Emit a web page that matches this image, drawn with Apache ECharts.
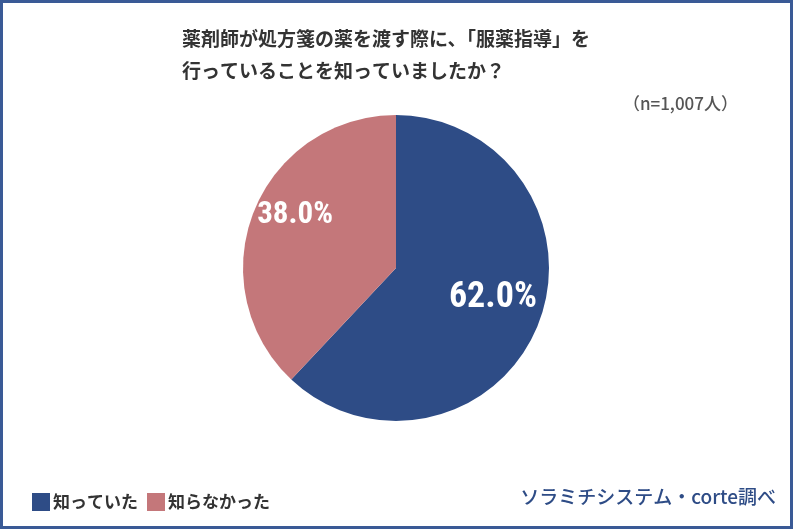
<!DOCTYPE html>
<html><head><meta charset="utf-8">
<script src="https://cdn.jsdelivr.net/npm/echarts@6/dist/echarts.min.js"></script>
<style>html,body{margin:0;padding:0;background:#fff}#c{width:793px;height:529px}</style>
</head><body><div id="c"></div>
<script>
const titleLines = ['薬剤師が処方箋の薬を渡す際に、「服薬指導」を', '行っていることを知っていましたか？'];
const sampleNote = '（n=1,007人）';
const categories = ['知っていた', '知らなかった'];
const values = [62.0, 38.0];
const sourceNote = 'ソラミチシステム・corte調べ';
const colors = ['#2e4c86', '#c4777a'];
const labelSizes = [36, 31];
const labelShift = [[23, 1], [-27, -23]];

const chart = echarts.init(document.getElementById('c'));
chart.setOption({
  animation: false,
  backgroundColor: '#fff',
  title: [{
    text: titleLines.join('\n'),
    left: 182, top: 23, padding: 0,
    textStyle: {fontFamily: 'Noto Sans CJK JP', fontSize: 19, fontWeight: 'bold', color: '#333', lineHeight: 32}
  }, {
    text: sampleNote,
    right: 55, top: 95, padding: 0,
    textStyle: {fontFamily: 'Noto Sans CJK JP', fontSize: 17, fontWeight: 500, color: '#555'}
  }],
  legend: {
    left: 32, top: 493, padding: 0,
    itemWidth: 18, itemHeight: 18, itemGap: 9, icon: 'rect',
    textStyle: {fontFamily: 'Noto Sans CJK JP', fontSize: 17, fontWeight: 'bold', color: '#333', padding: [0, 0, 0, -2]},
    data: categories
  },
  graphic: [{
    type: 'rect', silent: true, z: 100,
    shape: {x: 1.5, y: 1.5, width: 790, height: 526},
    style: {fill: 'none', stroke: '#3a5a96', lineWidth: 3}
  }, {
    type: 'text', right: 17, top: 487,
    style: {text: sourceNote, fontFamily: 'Noto Sans CJK JP', fontSize: 19, fontWeight: 500, fill: '#2e4c86'}
  }],
  series: [{
    type: 'pie',
    center: [396, 268], radius: [0, 153],
    startAngle: 90, clockwise: true,
    itemStyle: {borderWidth: 0},
    emphasis: {disabled: true},
    label: {
      show: true, position: 'inside',
      formatter: p => p.value.toFixed(1) + '%',
      fontFamily: 'Liberation Sans Narrow, Roboto Condensed, Roboto',
      fontWeight: 'bold', color: '#fff'
    },
    labelLayout: p => ({dx: labelShift[p.dataIndex][0], dy: labelShift[p.dataIndex][1]}),
    data: categories.map((n, i) => ({
      name: n, value: values[i],
      itemStyle: {color: colors[i]},
      label: {fontSize: labelSizes[i]}
    }))
  }]
});
</script></body></html>
